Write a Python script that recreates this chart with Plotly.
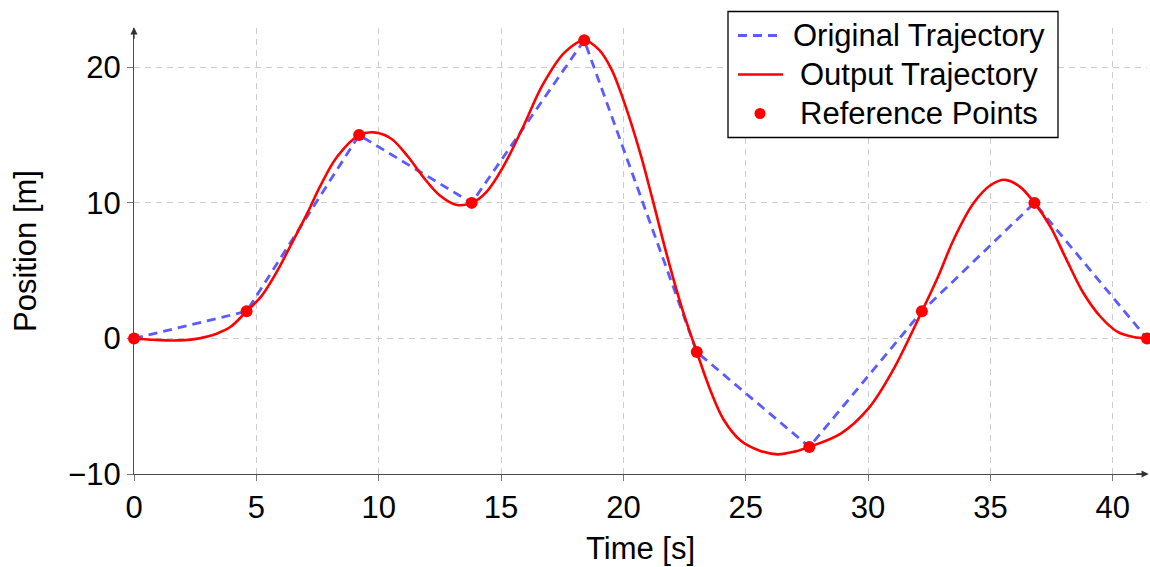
import plotly.graph_objects as go

# Reference waypoints: time [s] and position [m]
ref_t = [0, 4.6, 9.2, 13.8, 18.4, 23.0, 27.6, 32.2, 36.8, 41.4]
ref_pos = [0, 2, 15, 10, 22, -1, -8, 2, 10, 0]

# Smoothed output trajectory samples
out_t = [0, 0.8, 1.6, 2.4, 3.0, 3.4, 3.95, 4.6, 5.2, 5.8, 6.5, 7.1, 7.6, 8.3,
         9.2, 9.8, 10.5, 11.2, 11.8, 12.5, 13.2, 13.8, 14.4, 15.1, 15.9,
         16.7, 17.6, 18.4, 19.0, 19.5, 20.0, 20.7, 21.2, 21.8, 22.4, 23.0,
         23.55, 24.1, 24.8, 25.6, 26.3, 27.0, 27.6, 28.9, 30.0, 31.0, 32.2,
         32.86, 33.5, 34.3, 35.0, 35.6, 36.2, 36.8, 37.45, 38.1, 38.8, 39.5,
         40.2, 40.85, 41.4]
out_pos = [0, -0.1, -0.15, -0.07, 0.15, 0.37, 0.86, 2, 3.1, 4.8, 7.2, 9.3,
           11.2, 13.4, 15, 15.2, 14.75, 13.4, 11.95, 10.55, 9.85, 10, 10.8,
           12.7, 15.6, 18.7, 21.1, 22, 21.3, 19.9, 17.6, 13.6, 10.2, 6.0,
           2.2, -1, -3.8, -6.0, -7.55, -8.3, -8.55, -8.35, -8, -7.0, -5.2,
           -2.4, 2, 4.55, 7.3, 9.95, 11.3, 11.7, 11.2, 10, 8.25, 5.85, 3.35,
           1.6, 0.48, 0.1, 0]

x_ticks = [0, 5, 10, 15, 20, 25, 30, 35, 40]
y_ticks = [-10, 0, 10, 20]
legend_labels = ["Original Trajectory", "Output Trajectory", "Reference Points"]

BLUE = "#5b5bff"
RED = "#ff0000"
FONT = "Liberation Sans, Arial, Helvetica, sans-serif"
FS = 31

W, H = 1150, 567
L, R, T, B = 134, 3, 28, 93
PW, PH = W - L - R, H - T - B


def px(x):
    return (x - L) / PW


def py(y):
    return (H - B - y) / PH


fig = go.Figure()
fig.add_trace(go.Scatter(x=ref_t, y=ref_pos, mode="lines",
                         line=dict(color=BLUE, width=2.8, dash="9px,6px"),
                         showlegend=False, cliponaxis=False))
fig.add_trace(go.Scatter(x=out_t, y=out_pos, mode="lines",
                         line=dict(color=RED, width=2.6, shape="spline", smoothing=1.0),
                         showlegend=False))
fig.add_trace(go.Scatter(x=ref_t, y=ref_pos, mode="markers",
                         marker=dict(color=RED, size=12), showlegend=False,
                         cliponaxis=False))

axis_common = dict(
    showgrid=True, gridcolor="#cccccc", gridwidth=1, griddash="6px,5px",
    showline=True, linecolor="#4d4d4d", linewidth=1.3,
    ticks="outside", ticklen=6, tickcolor="#777777", tickwidth=1,
    zeroline=False, layer="below traces",
    tickfont=dict(family=FONT, size=FS, color="black"),
    title_font=dict(family=FONT, size=FS, color="black"),
)
fig.update_xaxes(range=[0, 41.4], tickvals=x_ticks, title_text="Time [s]",
                 title_standoff=12, **axis_common)
fig.update_yaxes(range=[-10, 22.9], tickvals=y_ticks, title_text="Position [m]",
                 title_standoff=22, **axis_common)

# axis arrowheads
arrows = [dict(x=41.47, y=-10, ax=40.9, ay=-10),
          dict(x=0, y=22.95, ax=0, ay=22.0)]
for a in arrows:
    fig.add_annotation(x=a["x"], y=a["y"], ax=a["ax"], ay=a["ay"],
                       xref="x", yref="y", axref="x", ayref="y", text="",
                       showarrow=True, arrowhead=2, arrowsize=1.1,
                       arrowwidth=1.3, arrowcolor="#333333")

# legend box
box = dict(x0=728, x1=1058, y0=11.5, y1=137.5)
fig.add_shape(type="rect", xref="paper", yref="paper",
              x0=px(box["x0"]), x1=px(box["x1"]), y0=py(box["y1"]), y1=py(box["y0"]),
              line=dict(color="black", width=1.3), fillcolor="white", layer="above")
rows = [35.5, 74.5, 113.5]
fig.add_shape(type="line", xref="paper", yref="paper",
              x0=px(738), x1=px(779), y0=py(rows[0]), y1=py(rows[0]),
              line=dict(color=BLUE, width=2.8, dash="9px,6px"), layer="above")
fig.add_shape(type="line", xref="paper", yref="paper",
              x0=px(738), x1=px(783), y0=py(rows[1]), y1=py(rows[1]),
              line=dict(color=RED, width=2.6), layer="above")
fig.add_shape(type="circle", xref="paper", yref="paper",
              x0=px(754.5), x1=px(765.5), y0=py(rows[2] + 5.5), y1=py(rows[2] - 5.5),
              line=dict(color=RED, width=0), fillcolor=RED, layer="above")
for label, ry in zip(legend_labels, rows):
    fig.add_annotation(x=px(919), y=py(ry), xref="paper", yref="paper",
                       text=label, showarrow=False, xanchor="center",
                       yanchor="middle",
                       font=dict(family=FONT, size=FS, color="black"))

fig.update_layout(
    width=W, height=H,
    margin=dict(l=L, r=R, t=T, b=B, pad=0),
    paper_bgcolor="white", plot_bgcolor="white",
    showlegend=False,
)

fig.write_html("out.html")
